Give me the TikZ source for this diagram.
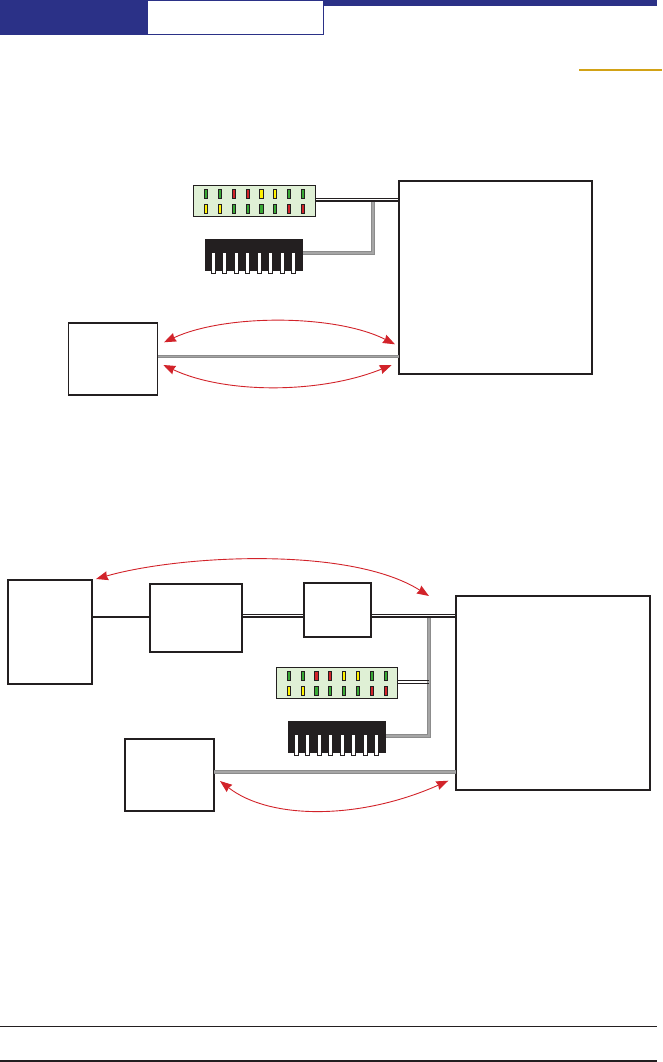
\documentclass[tikz,border=0pt]{standalone}
\usetikzlibrary{arrows.meta}
\definecolor{navy}{HTML}{2B3187}
\definecolor{gold}{HTML}{D2A216}
\definecolor{ink}{HTML}{231F20}
\definecolor{redarr}{HTML}{D2232A}
\definecolor{panelg}{HTML}{DFF0D5}
\definecolor{ledg}{HTML}{39A935}
\definecolor{ledr}{HTML}{D2232A}
\definecolor{ledy}{HTML}{FFF200}
\tikzset{
  x=1pt,y=-1pt,
  bbox/.style={draw=ink,line width=1.9pt,fill=white,inner sep=0pt,outer sep=0pt,rectangle},
  panel/.style={draw=ink,line width=1pt,fill=panelg,inner sep=0pt,outer sep=0pt,rectangle,minimum height=31pt},
  led/.style={draw=ink,line width=.7pt,inner sep=0pt,rectangle,minimum width=3.2pt,minimum height=9.4pt},
  blockk/.style={fill=ink,inner sep=0pt,outer sep=0pt,rectangle,minimum width=98pt,minimum height=32pt},
  pinn/.style={draw=ink,line width=.7pt,fill=white,inner sep=0pt,rectangle,minimum width=4pt,minimum height=21pt},
  wirethin/.style={draw=ink,line width=.8pt},
  wirethick/.style={draw=ink,line width=1.4pt},
  graywire/.style={draw=gray!90,double=gray!70,double distance=1.6pt,line width=1.1pt,line join=miter},
  redarc/.style={draw=redarr,line width=.9pt,{Stealth[length=12pt,width=9pt,inset=1pt]}-{Stealth[length=12pt,width=9pt,inset=1pt]}},
}
\begin{document}
\begin{tikzpicture}
\useasboundingbox (0,0) rectangle (662,1062);
% header
\fill[navy] (0,0) rectangle (147,35);
\fill[navy] (147,0) rectangle (657,6);
\node[draw=navy,line width=1pt,fill=white,inner sep=0pt,minimum width=176pt,minimum height=34.5pt] (tab) at (235,17.5) {};
\fill[gold] (579,69) rectangle (662,71);
% rules
\draw[ink,line width=.9pt] (0,1026) -- (657,1026);
\draw[ink,line width=2pt] (0,1061) -- (657,1061);

% ---------- upper diagram
\node[bbox,minimum width=193pt,minimum height=193pt] (big1) at (495.5,277.5) {};
\node[bbox,minimum width=89pt,minimum height=72.5pt] (host1) at (113,359) {};
\node[panel,minimum width=122.5pt] (pan1) at (254.5,200.8) {};
\node[blockk] (blk1) at (254,255) {};
\coordinate (j1) at (372.7,253);
% wires
\draw[graywire] (blk1.east |- j1) -- (j1) -- (j1 |- 0,201);
\draw[wirethin] (pan1.east |- 0,198.3) -- (big1.west |- 0,198.3);
\draw[wirethick] (pan1.east |- 0,201) -- (big1.west |- 0,201);
\draw[graywire] (host1.east |- 0,356.5) -- (big1.west |- 0,356.5);
% leds
\foreach \i/\x/\w/\c in {1/206/3.2/ledg,2/220/3.2/ledg,3/234/3.2/ledr,4/248/3.2/ledr,5/261.3/4.2/ledy,6/275/3.2/ledy,7/289/3.2/ledg,8/303/3.2/ledg}
  \node[led,fill=\c,minimum width=\w pt] (ua\i) at (\x,194) {};
\foreach \i/\x/\w/\c in {1/206/3.2/ledy,2/220/3.2/ledy,3/234/3.2/ledg,4/248/3.2/ledg,5/261.3/4.2/ledg,6/275/3.2/ledg,7/289/3.2/ledr,8/303/3.2/ledr}
  \node[led,fill=\c,minimum width=\w pt] (ub\i) at (\x,209) {};
\foreach \i/\x in {1/213.3,2/224.3,3/236.3,4/247.3,5/259.3,6/270.3,7/282.3,8/293.3}
  \node[pinn] (up\i) at (\x,263.2) {};
% arrows
\coordinate (a1) at (164,342.3);
\coordinate (a2) at (395,344.3);
\coordinate (a3) at (163.3,365);
\coordinate (a4) at (391.7,365);
\draw[redarc] (a1) .. controls (225,314) and (335,314) .. (a2);
\draw[redarc] (a3) .. controls (225,394) and (320,394) .. (a4);

% ---------- lower diagram
\node[bbox,minimum width=194pt,minimum height=194pt] (big2) at (553,693) {};
\node[bbox,minimum width=84.6pt,minimum height=104.3pt] (boxa) at (50,632) {};
\node[bbox,minimum width=92pt,minimum height=68.3pt] (boxb) at (196,617.8) {};
\node[bbox,minimum width=67.3pt,minimum height=54.6pt] (boxc) at (337.7,610) {};
\node[bbox,minimum width=89pt,minimum height=72pt] (host2) at (169.5,775) {};
\node[panel,minimum width=121.4pt] (pan2) at (337,683) {};
\node[blockk] (blk2) at (337,737) {};
\coordinate (j2) at (429.2,736);
\coordinate (j3) at (429,682);
% wires
\draw[graywire] (blk2.east |- j2) -- (j2) -- (j2 |- 0,617);
\draw[wirethin] (pan2.east |- 0,680.3) -- (j3 |- 0,680.3);
\draw[wirethick] (pan2.east |- 0,683.4) -- (j3 |- 0,683.4);
\draw[ink,line width=1.6pt] (boxa.east |- 0,616.7) -- (boxb.west |- 0,616.7);
\draw[wirethin] (boxb.east |- 0,614.2) -- (boxc.west |- 0,614.2);
\draw[wirethick] (boxb.east |- 0,617) -- (boxc.west |- 0,617);
\draw[wirethin] (boxc.east |- 0,614.2) -- (big2.west |- 0,614.2);
\draw[wirethick] (boxc.east |- 0,617) -- (big2.west |- 0,617);
\draw[graywire] (host2.east |- 0,772.2) -- (big2.west |- 0,772.2);
% leds
\foreach \i/\x/\w/\c in {1/289/3.2/ledg,2/303/3.2/ledg,3/316.3/4.2/ledr,4/330/3.2/ledr,5/344/3.2/ledy,6/358/3.2/ledy,7/372/3.2/ledg,8/386/3.2/ledg}
  \node[led,fill=\c,minimum width=\w pt] (la\i) at (\x,676) {};
\foreach \i/\x/\w/\c in {1/289/3.2/ledy,2/303/3.2/ledy,3/316.3/4.2/ledg,4/330/3.2/ledg,5/344/3.2/ledg,6/358/3.2/ledg,7/372/3.2/ledr,8/386/3.2/ledr}
  \node[led,fill=\c,minimum width=\w pt] (lb\i) at (\x,690.7) {};
\foreach \i/\x in {1/296.3,2/307.3,3/319.3,4/330.3,5/342.3,6/353.3,7/365.3,8/376.3}
  \node[pinn] (lp\i) at (\x,745) {};
% arrows
\coordinate (b1) at (96,579);
\coordinate (b2) at (429,596);
\coordinate (b3) at (220,781);
\coordinate (b4) at (448.3,780.7);
\draw[redarc] (b1) .. controls (180,555) and (350,546) .. (b2);
\draw[redarc] (b3) .. controls (270,820) and (360,820) .. (b4);
\end{tikzpicture}
\end{document}
